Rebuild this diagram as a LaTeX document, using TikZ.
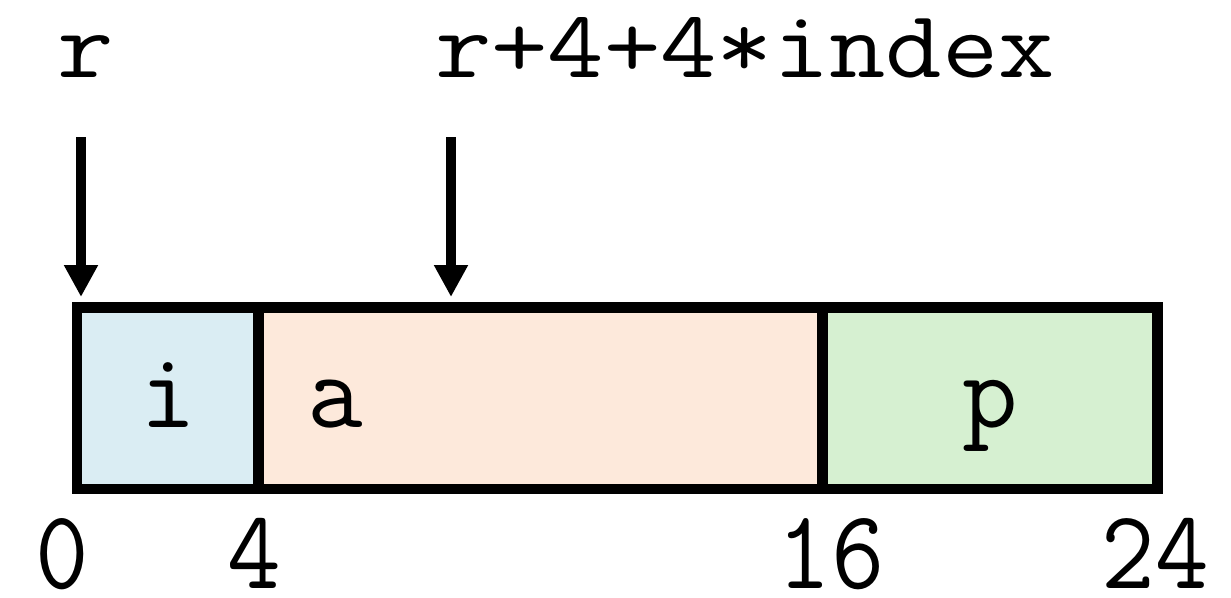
\documentclass[tikz,border=0pt]{standalone}
\usepackage{fontspec}
\usetikzlibrary{arrows.meta}
\definecolor{cellblue}{HTML}{DAEDF3}
\definecolor{cellorange}{HTML}{FDE9DB}
\definecolor{cellgreen}{HTML}{D6F0D1}
\tikzset{
  cell/.style={draw=black, line width=10.5pt, rectangle, inner sep=0pt, outer sep=0pt,
               minimum height=181.5pt, anchor=north west},
  ptrlabel/.style={font=\ttfamily\fontsize{96}{96}\selectfont, inner sep=0pt, anchor=base, xscale=1.14},
  celltext/.style={font=\ttfamily\fontsize{108}{108}\selectfont, inner sep=0pt, anchor=base},
  offset/.style={font=\ttfamily\fontsize{104}{104}\selectfont, inner sep=0pt, anchor=base, yscale=1.08},
  pointer/.style={line width=10.5pt, -{Triangle[length=32pt, width=32pt]}}
}
\begin{document}
\begin{tikzpicture}[x=1pt, y=-1pt]
  \useasboundingbox (0,0) rectangle (1231,597);

  % struct rec layout: int i; int a[3]; int *p;
  \node[cell, fill=cellblue,   minimum width=181.5pt] (ci) at (77,307.5) {};
  \node[cell, fill=cellorange, minimum width=564pt]   (ca) at (258.5,307.5) {};
  \node[cell, fill=cellgreen,  minimum width=335pt]   (cp) at (822.5,307.5) {};

  % field names
  \node[celltext] (ti) at (168,427) {i};
  \node[celltext] (ta) at (335,427) {a};
  \node[celltext] (tp) at (990,427) {p};

  % byte offsets
  \node[offset] (o0)  at (62.5,588) {0};
  \node[offset] (o4)  at (254,588)  {4};
  \node[offset] (o16) at (831,588)  {16};
  \node[offset] (o24) at (1155,588) {24};

  % pointer expressions
  \node[ptrlabel] (pr)  at (85.5,77) {r};
  \node[ptrlabel] (pri) at (745,77)  {r+4+4*index};

  \coordinate (s1) at (81,137);
  \coordinate (e1) at (81,297);
  \coordinate (s2) at (451,137);
  \coordinate (e2) at (451,297);
  \draw[pointer] (s1) -- (e1);
  \draw[pointer] (s2) -- (e2);
\end{tikzpicture}
\end{document}
